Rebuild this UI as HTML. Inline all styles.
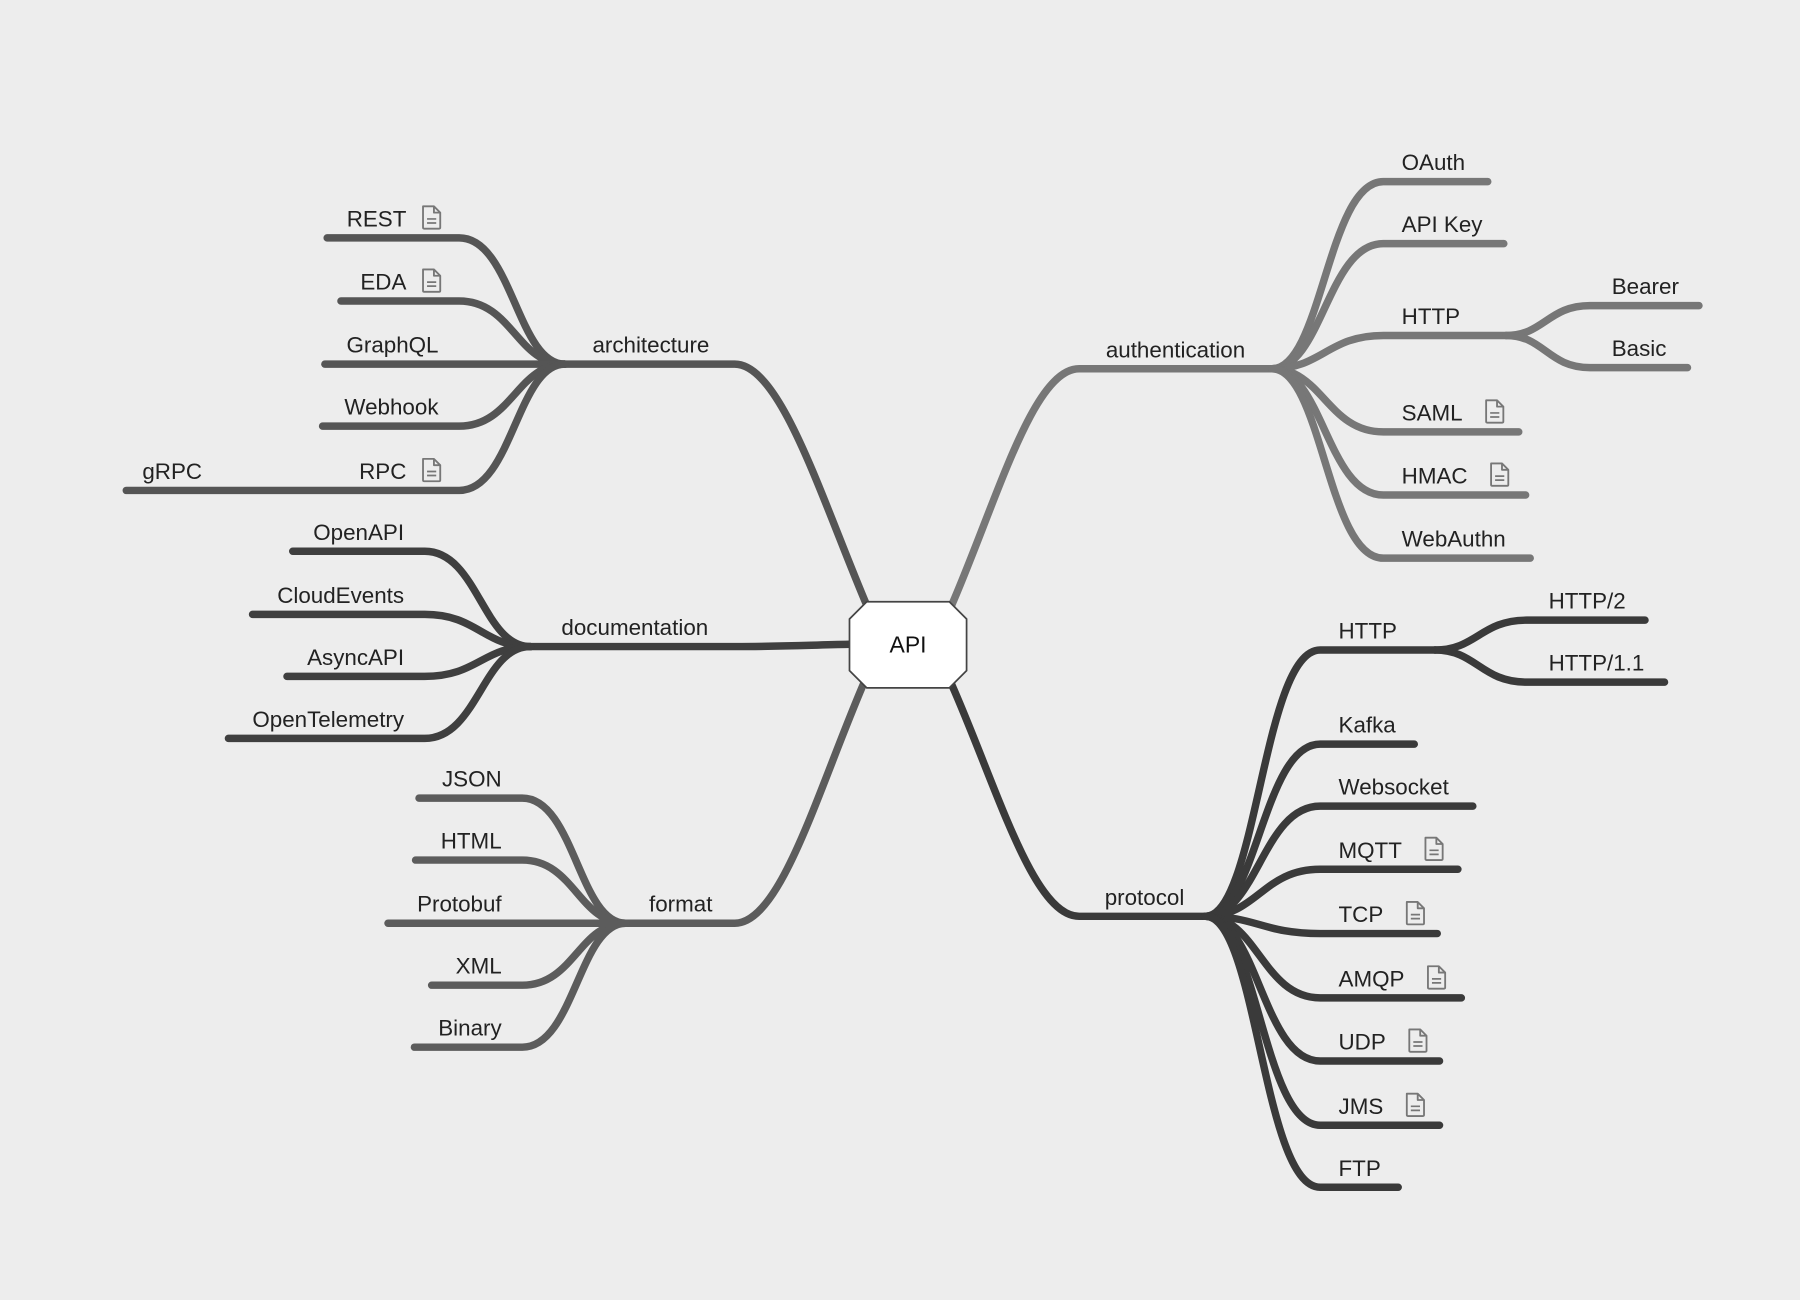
<!DOCTYPE html>
<html><head><meta charset="utf-8"><style>
html,body{margin:0;padding:0;background:#ededed;}
svg{display:block;}
text{font-family:"Liberation Sans",Arial,sans-serif;font-size:19.5px;fill:#222;}
</style></head><body>
<svg id="map" width="1800" height="1300" viewBox="0 0 1568 1132" xmlns="http://www.w3.org/2000/svg">
<rect width="1568" height="1132" fill="#ededed"/>
<g id="links"></g>
<g id="labels"></g>
<g>
<polygon points="755,524 827,524 842,539 842,584 827,599 755,599 740,584 740,539" fill="#fff" stroke="#444" stroke-width="1.5"/>
<text x="791" y="568" text-anchor="middle" style="font-size:20px;fill:#111">API</text>
</g>
</svg>
<script>
// branch definitions
const branchNames = ['architecture','documentation','format','authentication','protocol'];
const branchColors = ['#555','#3f3f3f','#5c5c5c','#777','#3a3a3a'];
const branchSides = [-1,-1,-1,1,1];
const branchHubY = [317,563,804,321,798];
const branchHubX = [492,462,545,1108,1050];
const branchLeafX = [400,370,455,1205,1150];
const branchStart = [[755,527],[740,561],[752,596],[829,527],[829,596]];
const branchLabelX = [567,553,593,1024,997];
// leaves: [label, y, farEndX, icon]
const leavesArch = [['REST',207,285,1],['EDA',262,297,1],['GraphQL',317,283,0],['Webhook',371,281,0],['RPC',427,110,1]];
const leavesDoc = [['OpenAPI',480,255,0],['CloudEvents',535,220,0],['AsyncAPI',589,250,0],['OpenTelemetry',643,199,0]];
const leavesFmt = [['JSON',695,365,0],['HTML',749,362,0],['Protobuf',804,338,0],['XML',858,376,0],['Binary',912,361,0]];
const leavesAuth = [['OAuth',158,1296,0],['API Key',212,1310,0],['HTTP',292,1312,0],['SAML',376,1323,1],['HMAC',431,1329,1],['WebAuthn',486,1333,0]];
const leavesProto = [['HTTP',566,1250,0],['Kafka',648,1232,0],['Websocket',702,1283,0],['MQTT',757,1270,1],['TCP',813,1252,1],['AMQP',869,1273,1],['UDP',924,1254,1],['JMS',980,1254,1],['FTP',1034,1218,0]];
const allLeaves = [leavesArch,leavesDoc,leavesFmt,leavesAuth,leavesProto];
// sub-children: [branchIndex, leafIndex, label, y, endX]
const subKids = [[3,2,'Bearer',266,1480],[3,2,'Basic',320,1470],[4,0,'HTTP/2',540,1433],[4,0,'HTTP/1.1',594,1450]];
const subLeafX = [1385,1330];

const NS='http://www.w3.org/2000/svg';
const links=document.getElementById('links'), labels=document.getElementById('labels');
function path(d,c,name){const p=document.createElementNS(NS,'path');p.setAttribute('d',d);p.setAttribute('fill','none');p.setAttribute('stroke',c);p.setAttribute('stroke-width','6.5');p.setAttribute('stroke-linecap','round');


links.appendChild(p);}
function label(x,y,t,anchor,name){const e=document.createElementNS(NS,'text');e.setAttribute('x',x);e.setAttribute('y',y);e.setAttribute('text-anchor',anchor);e.textContent=t;


labels.appendChild(e);return e;}
function icon(x,y,name){const g=document.createElementNS(NS,'g');g.setAttribute('transform','translate('+x+','+y+')');


g.innerHTML='<path d="M1.5 1.5 H11 L16.5 7 V20 Q16.5 21 15.5 21 H2.5 Q1.5 21 1.5 20 Z M11 1.5 V7 H16.5" fill="none" stroke="#777" stroke-width="1.6" stroke-linejoin="round"/><path d="M5 12.5 H13 M5 16 H13" stroke="#777" stroke-width="1.5"/>';
labels.appendChild(g);}
function curve(x0,y0,x1,y1){const dx=x1-x0;return 'M'+x0+' '+y0+' C'+(x0+dx*0.45)+' '+y0+' '+(x0+dx*0.5)+' '+y1+' '+x1+' '+y1;}
function slug(s){return s.toLowerCase().replace(/[^a-z0-9]+/g,'-');}

branchNames.forEach((bn,i)=>{
  const s=branchSides[i],c=branchColors[i],hx=branchHubX[i],hy=branchHubY[i];
  const [sx,sy]=branchStart[i];
  const elbow=s<0?640:940;
  path('M'+sx+' '+sy+' C'+(sx+s*40)+' '+(sy+(hy-sy)*0.45)+' '+(elbow-s*40)+' '+hy+' '+elbow+' '+hy+' L'+hx+' '+hy,c,bn+'-branch');
  label(branchLabelX[i],hy-10,bn,'middle',bn+'-label');
  allLeaves[i].forEach((lf,j)=>{
    const [t,y,ex,ic]=lf, lx=branchLeafX[i];
    path(curve(hx,hy,lx,y)+' L'+ex+' '+y,c,slug(bn+'-'+t)+'-link');
    if(s<0){
      const endT=lx-18-(ic?28:0);
      label(endT,y-10,t,'end',slug(t)+'-node');
      if(ic) icon(lx-33,y-29,slug(t)+'-note-icon');
    } else {
      const e=label(lx+16,y-10,t,'start',slug(t)+'-node');
      if(ic){let w=t.length*13;try{w=e.getComputedTextLength();}catch(err){}icon(lx+16+w+19,y-29,slug(t)+'-note-icon');}
    }
  });
});
// gRPC extra label on RPC line
label(124,417,'gRPC','start','grpc-node');
subKids.forEach(k=>{
  const [bi,li,t,y,ex]=k, par=allLeaves[bi][li], hx=par[2], hy=par[1];
  const lx=subLeafX[bi-3];
  path(curve(hx,hy,lx,y)+' L'+ex+' '+y,branchColors[bi],slug(t)+'-link');
  label(lx+19,y-10,t,'start',slug(t)+'-node');
});
</script>
</body></html>
